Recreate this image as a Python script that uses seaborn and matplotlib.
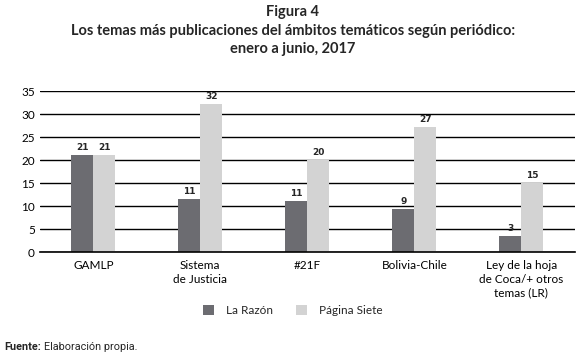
import matplotlib
matplotlib.use("Agg")
import matplotlib.pyplot as plt
import seaborn as sns
import pandas as pd
from matplotlib.patches import Patch

categories = ["GAMLP", "Sistema\nde Justicia", "#21F", "Bolivia-Chile",
              "Ley de la hoja\nde Coca/+ otros\ntemas (LR)"]
series = ["La Razón", "Página Siete"]
la_razon = [21.1, 11.5, 11.1, 9.3, 3.5]
pagina_siete = [21.1, 32.2, 20.0, 27.2, 15.1]
la_razon_labels = ["21", "11", "11", "9", "3"]
pagina_siete_labels = ["21", "32", "20", "27", "15"]
yticks = [0, 5, 10, 15, 20, 25, 30, 35]

df = pd.DataFrame({
    "cat": categories * 2,
    "serie": [series[0]] * 5 + [series[1]] * 5,
    "val": la_razon + pagina_siete,
})
colors = ["#6c6c71", "#d3d3d3"]

sns.set_theme(style="white")
plt.rcParams["font.family"] = ["Lato", "DejaVu Sans"]

fig = plt.figure(figsize=(5.86, 3.57), dpi=100)
ax = fig.add_axes([0.068, 0.294, 0.913, 0.451])
sns.barplot(data=df, x="cat", y="val", hue="serie", palette=colors,
            width=0.41, gap=0, saturation=1, ax=ax, legend=False,
            edgecolor="none", linewidth=0)

ax.set_ylim(0, 35)
ax.set_yticks(yticks)
ax.set_xlim(-0.5, 4.5)
ax.grid(axis="y", color="black", linewidth=1.0)
ax.set_axisbelow(True)
for s in ["top", "right", "left"]:
    ax.spines[s].set_visible(False)
ax.spines["bottom"].set_color("black")
ax.spines["bottom"].set_linewidth(1.2)
ax.tick_params(axis="both", length=0, labelsize=8.5, colors="black")
ax.tick_params(axis="x", pad=6)
ax.set_xlabel("")
ax.set_ylabel("")
for lbl in ax.get_xticklabels():
    lbl.set_linespacing(1.25)

labels_all = [la_razon_labels, pagina_siete_labels]
for cont, labs in zip(ax.containers, labels_all):
    ax.bar_label(cont, labels=labs, padding=2, fontsize=6.5,
                 fontweight="bold", family="DejaVu Sans")

handles = [Patch(facecolor=c, edgecolor="none") for c in colors]
fig.legend(handles, series, loc="center", bbox_to_anchor=(0.5, 0.13),
           ncol=2, frameon=False, fontsize=8.5, handlelength=0.9,
           handleheight=0.9, columnspacing=2.0, handletextpad=1.0)

fig.text(0.5, 0.965, "Figura 4", ha="center", va="center",
         fontsize=10.5, fontweight="bold")
fig.text(0.5, 0.913, "Los temas más publicaciones del ámbitos temáticos según periódico:",
         ha="center", va="center", fontsize=10.5, fontweight="bold")
fig.text(0.5, 0.862, "enero a junio, 2017", ha="center", va="center",
         fontsize=10.5, fontweight="bold")

ft = fig.text(0.008, 0.028, "Fuente:", ha="left", va="center", fontsize=7.8,
              fontweight="bold", family=["Roboto", "DejaVu Sans"])
fig.canvas.draw()
bb = ft.get_window_extent()
x1 = bb.x1 / fig.bbox.width
fig.text(x1 + 0.004, 0.028, "Elaboración propia.", ha="left", va="center",
         fontsize=7.8, family=["Roboto", "DejaVu Sans"])

fig.savefig("out.png", dpi=100)
